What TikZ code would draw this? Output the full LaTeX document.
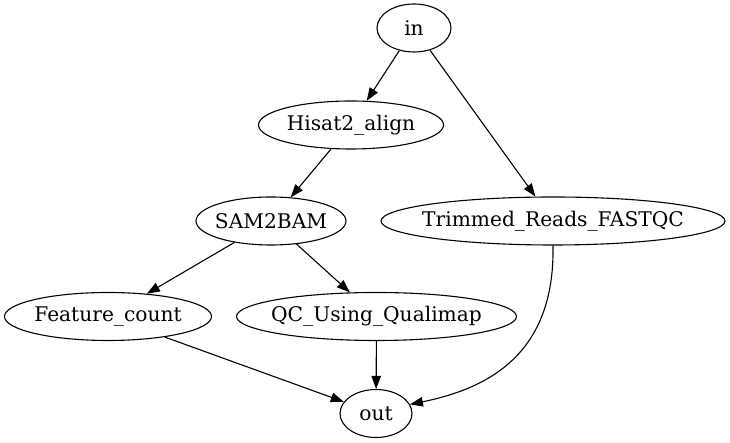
\documentclass[tikz,border=0pt]{standalone}
\usepackage{fontspec}
\setmainfont{DejaVu Serif}
\usetikzlibrary{shapes.geometric,arrows.meta}
\newcommand{\gvlabel}[1]{\makebox[0pt][c]{#1}}
\begin{document}
\begin{tikzpicture}[x=1pt,y=1pt,
  gv/.style={draw,ellipse,line width=1.1pt,inner sep=0pt,minimum height=48pt,font=\fontsize{20.2}{24}\selectfont},
  edge/.style={line width=1.1pt,-{Triangle[length=13pt,width=9.5pt]}}]
\useasboundingbox (0,0) rectangle (730,443);
\node[gv,minimum width=74pt]  (in)  at (414,415) {\gvlabel{in}};
\node[gv,minimum width=185pt] (hs)  at (351,318) {\gvlabel{Hisat2\_align}};
\node[gv,minimum width=150pt] (sb)  at (271,222) {\gvlabel{SAM2BAM}};
\node[gv,minimum width=344pt] (tr)  at (553,222) {\gvlabel{Trimmed\_Reads\_FASTQC}};
\node[gv,minimum width=207pt] (fc)  at (108,126.5) {\gvlabel{Feature\_count}};
\node[gv,minimum width=280pt] (qc)  at (376.5,126.5) {\gvlabel{QC\_Using\_Qualimap}};
\node[gv,minimum width=72pt]  (out) at (376,29.5) {\gvlabel{out}};
\draw[edge] (in) -- (hs);
\draw[edge] (in) -- (tr);
\draw[edge] (hs) -- (sb);
\draw[edge] (sb) -- (fc);
\draw[edge] (sb) -- (qc);
\draw[edge] (fc) -- (out);
\draw[edge] (qc) -- (out);
\draw[edge] (tr.south) .. controls (555,90) and (490,55) .. (out.15);
\end{tikzpicture}
\end{document}
